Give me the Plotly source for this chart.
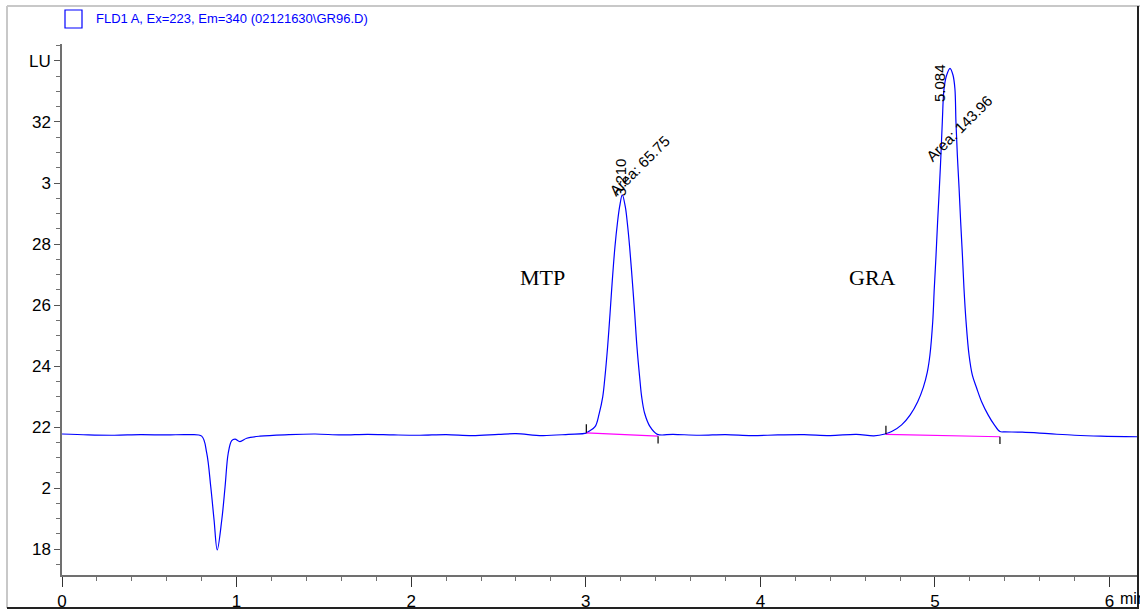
import plotly.graph_objects as go

# ---- data ----
time_min = [0.00, 0.15, 0.30, 0.45, 0.60, 0.72, 0.80, 0.829, 0.852, 0.871, 0.889, 0.915, 0.934, 0.952,
            0.972, 0.991, 1.019, 1.058, 1.134, 1.30, 1.45, 1.60, 1.75, 1.90, 2.05, 2.20, 2.35, 2.50,
            2.60, 2.75, 2.90,
            3.003, 3.015, 3.053, 3.077, 3.097, 3.108, 3.125, 3.139, 3.152, 3.167, 3.181, 3.194, 3.209,
            3.226, 3.238, 3.251, 3.266, 3.280, 3.293, 3.310, 3.320, 3.337, 3.368, 3.410,
            3.50, 3.65, 3.80, 3.95, 4.10, 4.25, 4.40, 4.55, 4.65,
            4.714, 4.752, 4.809, 4.857, 4.901, 4.933, 4.956, 4.971, 4.987, 4.996, 5.006, 5.015, 5.025,
            5.034, 5.042, 5.052, 5.067, 5.086, 5.103, 5.114, 5.120, 5.128, 5.138, 5.147, 5.157, 5.166,
            5.178, 5.195, 5.214, 5.239, 5.267, 5.305, 5.340, 5.372,
            5.40, 5.50, 5.65, 5.80, 5.95, 6.157]
signal_lu = [2.177, 2.174, 2.173, 2.175, 2.174, 2.175, 2.170, 2.114, 2.004, 1.895, 1.797, 1.895, 2.004,
             2.114, 2.155, 2.160, 2.152, 2.163, 2.170, 2.175, 2.177, 2.174, 2.176, 2.174, 2.173, 2.175,
             2.172, 2.176, 2.178, 2.172, 2.176,
             2.180, 2.185, 2.201, 2.245, 2.299, 2.354, 2.463, 2.573, 2.682, 2.791, 2.868, 2.923, 2.961,
             2.923, 2.868, 2.791, 2.682, 2.573, 2.463, 2.354, 2.299, 2.245, 2.201, 2.176,
             2.176, 2.173, 2.175, 2.172, 2.174, 2.175, 2.172, 2.176, 2.171,
             2.177, 2.185, 2.207, 2.239, 2.283, 2.330, 2.380, 2.436, 2.545, 2.655, 2.764, 2.873, 2.983,
             3.092, 3.201, 3.310, 3.354, 3.376, 3.354, 3.310, 3.201, 3.092, 2.983, 2.873, 2.764, 2.655,
             2.545, 2.436, 2.370, 2.327, 2.283, 2.239, 2.207, 2.185,
             2.184, 2.183, 2.178, 2.173, 2.170, 2.168]

mtp_base_t = [3.003, 3.414]
mtp_base_v = [2.181, 2.170]
gra_base_t = [4.719, 5.372]
gra_base_v = [2.176, 2.168]

peak_rt_text = ["3.210", "5.084"]
peak_rt_pos = [(3.203, 3.02), (5.029, 3.328)]
peak_area_text = ["Area: 65.75", "Area: 143.96"]
peak_area_pos = [(3.310, 3.056), (5.137, 3.180)]

compound_names = ["MTP", "GRA"]
compound_pos = [(2.75, 2.69), (4.64, 2.69)]

y_tickvals = [1.8, 2.0, 2.2, 2.4, 2.6, 2.8, 3.0, 3.2, 3.4]
y_ticktext = ["18", "2", "22", "24", "26", "28", "3", "32", "LU"]
x_tickvals = [0, 1, 2, 3, 4, 5, 6]
x_ticktext = ["0", "1", "2", "3", "4", "5", "6"]

legend_text = "FLD1 A, Ex=223, Em=340 (02121630\\GR96.D)"

# ---- figure ----
L, T, W, H = 62, 44, 1075, 531
def px(x):
    return (x - L) / W
def py(y):
    return (T + H - y) / H

fig = go.Figure()
fig.add_trace(go.Scatter(x=time_min, y=signal_lu, mode="lines",
                         line=dict(color="#0000ff", width=1.2, shape="spline", smoothing=1.0),
                         showlegend=False, hoverinfo="skip"))
for bt, bv in [(mtp_base_t, mtp_base_v), (gra_base_t, gra_base_v)]:
    fig.add_trace(go.Scatter(x=bt, y=bv, mode="lines", line=dict(color="#ff00ff", width=1.2),
                             showlegend=False, hoverinfo="skip"))
    fig.add_shape(type="line", x0=bt[0], x1=bt[0], y0=bv[0], y1=bv[0] + 0.028,
                  line=dict(color="black", width=1.2))
    fig.add_shape(type="line", x0=bt[1], x1=bt[1], y0=bv[1], y1=bv[1] - 0.024,
                  line=dict(color="#333333", width=1.5))

for txt, (xx, yy) in zip(peak_rt_text, peak_rt_pos):
    fig.add_annotation(x=xx, y=yy, text=txt, textangle=-90, showarrow=False,
                       font=dict(family="Liberation Sans", size=15, color="black"))
for txt, (xx, yy) in zip(peak_area_text, peak_area_pos):
    fig.add_annotation(x=xx, y=yy, text=txt, textangle=-45, showarrow=False,
                       font=dict(family="Liberation Sans", size=15, color="black"))
for txt, (xx, yy) in zip(compound_names, compound_pos):
    fig.add_annotation(x=xx, y=yy, text=txt, showarrow=False,
                       font=dict(family="Liberation Serif", size=22, color="black"))

fig.add_annotation(xref="paper", yref="paper", x=px(1118), y=py(598), text="min",
                   xanchor="left", yanchor="middle", showarrow=False,
                   font=dict(family="Liberation Sans", size=16, color="black"))

# legend
fig.add_shape(type="rect", xref="paper", yref="paper", x0=px(65), x1=px(82), y0=py(28), y1=py(10),
              line=dict(color="#0000ff", width=1.2), fillcolor="white")
fig.add_annotation(xref="paper", yref="paper", x=px(94), y=py(19), text=legend_text,
                   xanchor="left", yanchor="middle", showarrow=False,
                   font=dict(family="Liberation Sans Narrow, Liberation Sans", size=13, color="#0000ff"))

# outer frame
fig.add_shape(type="line", xref="paper", yref="paper", x0=px(7), x1=px(7), y0=py(6), y1=py(608),
              line=dict(color="#c8c8c8", width=2))
fig.add_shape(type="line", xref="paper", yref="paper", x0=px(7), x1=px(1140), y0=py(6), y1=py(6),
              line=dict(color="#c8c8c8", width=2))
fig.add_shape(type="line", xref="paper", yref="paper", x0=px(1138), x1=px(1138), y0=py(6), y1=py(609),
              line=dict(color="#222222", width=2))
fig.add_shape(type="line", xref="paper", yref="paper", x0=px(7), x1=px(1139), y0=py(608), y1=py(608),
              line=dict(color="#222222", width=2))

fig.update_layout(
    width=1140, height=613,
    margin=dict(l=L, r=1140 - L - W, t=T, b=613 - T - H, autoexpand=False),
    paper_bgcolor="white", plot_bgcolor="white",
    showlegend=False,
    xaxis=dict(range=[0, 6.157], showgrid=False, zeroline=False, showline=True, automargin=False,
               linecolor="#707070", linewidth=1.5, mirror=False,
               tickmode="array", tickvals=x_tickvals, ticktext=x_ticktext,
               ticks="outside", ticklen=10, tickcolor="#333333", tickwidth=1.2,
               tickfont=dict(family="Liberation Sans", size=17, color="black"),
               minor=dict(tickmode="linear", tick0=0, dtick=0.2, ticks="outside", ticklen=4,
                          tickcolor="#707070")),
    yaxis=dict(range=[1.7148, 3.4557], showgrid=False, zeroline=False, showline=True, automargin=False,
               linecolor="#707070", linewidth=1.5,
               tickmode="array", tickvals=y_tickvals, ticktext=y_ticktext,
               ticks="outside", ticklen=6, tickcolor="#555555", tickwidth=1.2,
               tickfont=dict(family="Liberation Sans", size=17, color="black"),
               minor=dict(tickmode="linear", tick0=0, dtick=0.05, ticks="outside", ticklen=4,
                          tickcolor="#707070")),
)

fig.write_html("out.html", config={"displayModeBar": False},
               post_script="document.body.style.margin='0';document.body.style.overflow='hidden';")
